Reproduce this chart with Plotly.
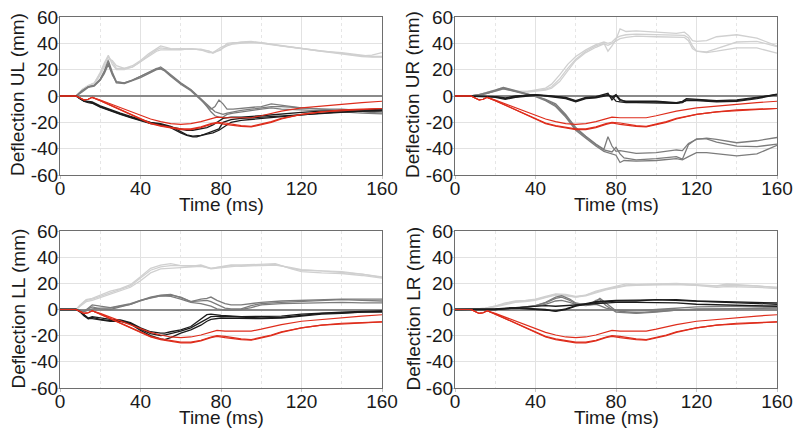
import plotly.graph_objects as go

# ---------------- data ----------------
# red reference lines (same in every panel)
t_red = [0, 8, 10, 12, 14, 16, 20, 25, 30, 35, 40, 45, 50, 55, 60, 65, 70, 75, 78, 82, 86, 90, 95, 100, 105, 110, 120, 130, 140, 150, 160]
red_a = [0, 0, -1.5, -3, -2.5, -1, -3, -6, -9, -12, -15, -17.5, -19.5, -21, -21.5, -21, -19.5, -17, -16, -16.5, -16.5, -17, -16.5, -15, -13, -11.5, -9, -7.5, -6, -5, -4]
red_b = [0, 0, -1.5, -3, -2.5, -1, -3.5, -7, -10.5, -14.5, -18, -21, -23, -24.5, -25.5, -25.5, -24, -21.5, -20.5, -21.5, -22.5, -23, -23.5, -22, -20, -17.5, -14, -12, -11, -10, -9.5]
red_c = [0, 0, -1.5, -3, -2.5, -1, -3.5, -7, -10.5, -14, -17.5, -20.5, -22.5, -24, -25, -25, -23.5, -21, -20, -20.5, -21.5, -22.5, -23, -21.5, -19.5, -17, -14, -12, -10.5, -10, -9.5]

# UL panel
t_ul_light = [0, 8, 11, 14, 17, 20, 22, 24, 26, 28, 32, 36, 40, 44, 48, 50, 55, 60, 65, 70, 74, 76, 80, 83, 86, 90, 95, 100, 110, 120, 130, 140, 150, 155, 160]
ul_light_1 = [0, 0, 5, 8, 10, 17, 24, 30, 26, 21, 21, 23, 27, 32, 36, 38, 36, 35.5, 36, 35, 33, 33, 37, 39, 40, 41, 41.5, 40.5, 38.5, 36, 34, 33, 31, 30, 30]
ul_light_2 = [0, 0, 4, 7, 9, 16, 22, 28, 27, 23, 21, 22, 26, 31, 35, 36.5, 35.5, 36, 35.5, 35.5, 34, 33, 35, 40, 40.5, 40.5, 41, 40.5, 38, 36, 34, 32.5, 30.5, 31, 33]
ul_light_3 = [0, 0, 5, 8, 9.5, 18, 25, 31, 24, 20, 20, 22, 26, 30, 34, 35, 35, 35, 36, 35, 34, 32.5, 36, 38, 39.5, 40, 41, 40, 38, 35.5, 33.5, 32, 30, 29.5, 29.5]

t_ul_mid = [0, 8, 11, 14, 17, 20, 22, 24, 26, 28, 32, 36, 40, 44, 48, 50, 52, 55, 60, 65, 70, 73, 75, 77, 79, 81, 83, 86, 90, 95, 100, 105, 110, 120, 130, 140, 150, 160]
ul_mid_1 = [0, 0, 4, 7, 8, 13, 19, 27, 18, 11, 10, 12, 15, 18, 21, 22, 20, 16, 10, 5, -2, -6, -9, -12, -13, -14, -13, -12, -11, -10, -9, -8, -8, -9, -10, -10, -11, -12]
ul_mid_2 = [0, 0, 4, 7, 8, 12, 18, 25, 17, 10, 9.5, 11.5, 14, 17, 20, 20.5, 19, 15, 9, 4, -3, -7, -10, -8, -3, -6, -10, -10, -9.5, -9, -8, -6, -7, -9, -10, -11, -12, -13]
ul_mid_3 = [0, 0, 3, 6.5, 7.5, 12, 17, 24, 16, 10.5, 10, 12, 15, 18, 21, 21, 19.5, 15.5, 9.5, 4.5, -2.5, -8, -12, -15, -16, -16, -14, -13, -12, -11, -10, -9, -10, -10.5, -11, -12, -13, -13.5]

t_ul_dark = [0, 8, 10, 12, 14, 16, 20, 25, 30, 35, 40, 45, 50, 55, 60, 63, 66, 68, 70, 73, 76, 79, 81, 85, 90, 100, 110, 120, 130, 140, 150, 160]
ul_dark_1 = [0, 0, -2, -4, -4.5, -5, -8, -11, -13.5, -16, -18.5, -20.5, -21.5, -24, -28, -30, -31, -31, -30, -28.5, -27, -25, -20, -18, -17, -16, -15, -14, -13, -12, -11.5, -11]
ul_dark_2 = [0, 0, -2, -3.5, -4, -4.5, -7.5, -10.5, -13, -15.5, -18, -20, -21, -23, -27, -29.5, -30.5, -30.5, -30, -29, -28, -26, -24, -20, -18.5, -17, -16, -14.5, -13, -12, -11.5, -11]
ul_dark_3 = [0, 0, -2, -4, -5, -5.5, -8.5, -11.5, -14, -16.5, -19, -21, -22, -23.5, -25.5, -26, -26, -25.5, -25, -24, -22, -19, -17, -16, -16, -15, -13.5, -12.5, -11.5, -11, -10.5, -10]

# UR panel
t_ur_light = [0, 8, 12, 16, 20, 24, 28, 32, 36, 40, 45, 48, 52, 56, 60, 65, 70, 74, 76, 78, 80, 82, 85, 90, 100, 110, 114, 116, 118, 120, 125, 130, 140, 150, 160]
ur_light_1 = [0, 0, 1, 3, 4.5, 6.5, 5, 3.5, 3.5, 4, 5, 7, 13, 21, 28, 34, 38, 40, 34, 38, 43, 51, 49, 49.5, 48.5, 47.5, 48.5, 46, 42, 41.5, 42, 45, 46.5, 44, 38]
ur_light_2 = [0, 0, 1, 2.5, 4, 6, 4.5, 3.5, 3.5, 4.5, 6, 9, 16, 24, 30, 35, 39, 41, 40, 41, 44, 45.5, 46.5, 47, 46.5, 46, 46, 44, 38, 34, 33.5, 36, 41, 41.5, 37.5]
ur_light_3 = [0, 0, 1, 2, 3.5, 5.5, 4, 3, 3, 3.5, 4.5, 6, 11, 19, 27, 33, 37, 39.5, 38.5, 40, 42, 43.5, 44.5, 45.5, 45, 44.5, 44.5, 42, 36, 34, 33, 34, 36.5, 36.5, 32.5]

t_ur_mid = [0, 8, 12, 16, 20, 24, 28, 32, 36, 40, 45, 50, 55, 60, 65, 70, 74, 76, 78, 80, 82, 84, 90, 100, 110, 113, 116, 120, 125, 130, 140, 150, 160]
ur_mid_1 = [0, 0, 1, 2.5, 4.5, 6.5, 5, 3, 1.5, 0, -2.5, -6, -14, -24, -30.5, -36.5, -40.5, -31, -38, -42, -41.5, -42, -43.5, -43, -41, -41.5, -36, -33, -32, -33, -35.5, -34, -31.5]
ur_mid_2 = [0, 0, 1, 2, 4, 6, 4.5, 3, 1.5, 0, -3, -7, -15, -25, -31, -37, -41, -42, -42.5, -39, -44, -47, -48.5, -47.5, -46, -48, -37, -32.5, -32.5, -35, -38, -38.5, -36.5]
ur_mid_3 = [0, 0, 0.5, 2, 3.5, 5.5, 4, 2.5, 1, -0.5, -3.5, -8, -16, -26, -32, -38, -42, -43, -43.5, -45, -50.5, -49, -49.5, -49, -47.5, -48.5, -46, -43, -43, -44, -45.5, -44, -37.5]

t_ur_dark = [0, 8, 12, 16, 20, 25, 30, 35, 40, 45, 50, 55, 60, 65, 70, 74, 76, 78, 80, 82, 85, 90, 100, 110, 113, 115, 120, 130, 140, 150, 160]
ur_dark_1 = [0, 0, 0, -0.5, -1, -2.5, -1, 0, 0.5, 0.5, 0, -1, -3.5, -1, -0.5, 1, 2, -3, 0.5, -3.5, -4, -4, -4, -5, -4, -2, -2.5, -3.5, -3, -1, 1]
ur_dark_2 = [0, 0, 0, -0.5, -0.5, -2, -0.5, 0.5, 1, 0.5, -0.5, -1.5, -4, -1.5, -1, 0.5, 1, -1, 1, -2.5, -4.5, -4.5, -4.5, -5.5, -5, -3, -3, -4, -3.5, -1.5, 1.5]
ur_dark_3 = [0, 0, 0, 0, -0.5, -1.5, 0, 0.5, 1, 0, -1, -2, -4.5, -2, -1.5, 0, 0.5, -0.5, -4, -4.5, -5, -5, -5, -5.5, -4.5, -3.5, -3.5, -4.5, -4, -2, 1]

# LL panel
t_ll_light = [0, 8, 10, 13, 16, 20, 25, 30, 35, 40, 45, 50, 55, 60, 65, 70, 75, 80, 85, 90, 100, 107, 115, 120, 130, 140, 150, 160]
ll_light_1 = [0, 0, 3.5, 7.5, 8.5, 11, 14, 16, 19, 25, 31.5, 34, 35, 33.5, 33, 34, 31.5, 32.5, 33.5, 33, 34, 34.5, 31.5, 30, 29.5, 28.5, 27, 25]
ll_light_2 = [0, 0, 3, 7, 8, 10, 13, 15, 18, 24, 30, 32.5, 33.5, 33.5, 33.5, 33.5, 31, 32, 33, 33.5, 33.5, 34, 32, 30.5, 29.5, 29, 27, 24.5]
ll_light_3 = [0, 0, 2.5, 6, 7, 9, 12, 14, 17, 22, 28, 31, 31.5, 32, 32.5, 33, 31.5, 33, 34, 34, 34.5, 35, 31, 29, 28, 27.5, 26, 24]

t_ll_mid = [0, 8, 12, 16, 20, 25, 30, 35, 40, 45, 50, 55, 60, 65, 70, 73, 75, 78, 82, 85, 90, 95, 100, 110, 120, 130, 140, 150, 160]
ll_mid_1 = [0, 0, -1.5, 3.5, 2.5, 1.5, 3, 4.5, 7, 9.5, 11, 11.5, 9, 6, 8, 8.5, 9.5, 7, 4.5, 3.5, 3.5, 4.5, 5.5, 6.5, 7, 8, 8, 8, 8]
ll_mid_2 = [0, 0, -1, 2, 0.5, 0, 2, 4, 7, 9, 10.5, 11, 9.5, 6, 6.5, 7, 6, 4, 1, 0.5, 0.5, 3, 4.5, 5.5, 6, 7, 7.5, 7, 6.5]
ll_mid_3 = [0, 0, -1.5, 0.5, 1, 1, 2.5, 4, 6.5, 9, 10.5, 10, 8, 5.5, 4.5, 3.5, 2.5, 0.5, -0.5, -0.5, 0, 1.5, 3.5, 4.5, 5, 5.5, 5.5, 5, 5]

t_ll_dark = [0, 8, 10, 12, 14, 16, 20, 25, 30, 35, 40, 45, 50, 52, 55, 60, 65, 70, 73, 75, 80, 90, 100, 110, 120, 130, 140, 150, 160]
ll_dark_1 = [0, 0, -1.5, -4, -6.5, -5.5, -6.5, -7.5, -8, -10, -14, -17, -18, -18, -17, -15.5, -13, -7, -4, -3.5, -4.5, -5.5, -5.5, -5, -3.5, -2.5, -2, -1.5, -1]
ll_dark_2 = [0, 0, -1.5, -4.5, -7, -6, -7.5, -8.5, -8.5, -10.5, -15, -18.5, -20, -19.5, -18.5, -16.5, -14, -10, -7, -5.5, -5, -6, -6.5, -6, -4.5, -3, -2.5, -2, -1.5]
ll_dark_3 = [0, 0, -2, -5, -7, -7, -8, -9, -9, -11, -16, -20, -22.5, -23, -21.5, -18, -15.5, -12, -9, -7.5, -6.5, -7, -7, -6.5, -5, -3.5, -3, -2, -2]

# LR panel
t_lr_light = [0, 8, 15, 20, 25, 30, 35, 40, 45, 50, 55, 60, 65, 70, 75, 80, 85, 90, 100, 110, 120, 130, 135, 140, 150, 160]
lr_light_1 = [0, 0, 1, 2.5, 5, 6.5, 7, 8, 10, 12, 11.5, 10, 11, 14, 16, 17.5, 19.5, 19, 19.5, 20, 19, 18, 19.5, 19, 18.5, 17]
lr_light_2 = [0, 0, 1, 2.5, 4.5, 6, 6.5, 7.5, 9.5, 11.5, 11, 9.5, 11, 13.5, 15.5, 17, 18.5, 19, 19.5, 19.5, 18.5, 18, 18.5, 18.5, 18, 16.5]
lr_light_3 = [0, 0, 0.5, 2, 4, 5.5, 6, 7, 9, 11, 10.5, 9.5, 10.5, 13, 15, 16.5, 18, 18.5, 19, 19, 18.5, 17, 17.5, 17.5, 17, 16]

t_lr_mid = [0, 8, 20, 30, 40, 45, 50, 53, 57, 60, 65, 68, 70, 72, 75, 80, 90, 100, 110, 120, 140, 160]
lr_mid_1 = [0, 0, 0, 1, 3, 5.5, 9.5, 10.5, 8, 5, 3.5, 4, 6, 8.5, 5, -1, -2.5, -1.5, 0, 0.5, 0.5, 1]
lr_mid_2 = [0, 0, 0, 1, 3, 5, 8.5, 9.5, 7, 4.5, 4, 5, 7, 7.5, 3, -2, -3, -2, -0.5, 0, 0.5, 1.5]
lr_mid_3 = [0, 0, 0, 0.5, 2.5, 4, 6.5, 7, 5.5, 4, 3, 3.5, 4, 3, 1, -0.5, -1, 0, 1, 2, 2.5, 2.5]

t_lr_dark = [0, 8, 20, 30, 40, 45, 50, 55, 60, 65, 70, 80, 90, 100, 110, 120, 140, 160]
lr_dark_1 = [0, 0, 0, 1.5, 0.5, 0, -1.5, 0, 2.5, 4, 5.5, 6.5, 6.5, 7.5, 7, 6, 5, 4]
lr_dark_2 = [0, 0, 0, 1, 0, -0.5, -1, 0.5, 3, 4.5, 6, 7, 7, 7.5, 7.5, 6.5, 6, 5]
lr_dark_3 = [0, 0, 0.5, 1.5, 2.5, 3, 2.5, 3, 4, 4, 4.5, 5.5, 5.5, 5.5, 5, 4, 3, 2.5]

panel_labels = ["UL", "UR", "LL", "LR"]
x_ticks = [0, 40, 80, 120, 160]
y_ticks = [-60, -40, -20, 0, 20, 40, 60]
y_tick_labels = ["-60", "-40", "-20", "0", "20", "40", "60"]
x_title = "Time (ms)"

# ---------------- styling ----------------
C_LIGHT = "#d0d0d0"
C_MID = "#7c7c7c"
C_DARK = "#1c1c1c"
C_RED = "#de2d1c"
FONT = "Liberation Sans, Arial, sans-serif"
TXT = "#1a1a1a"

panels = {
    "UL": (t_ul_light, [ul_light_1, ul_light_2, ul_light_3], t_ul_mid, [ul_mid_1, ul_mid_2, ul_mid_3], t_ul_dark, [ul_dark_1, ul_dark_2, ul_dark_3]),
    "UR": (t_ur_light, [ur_light_1, ur_light_2, ur_light_3], t_ur_mid, [ur_mid_1, ur_mid_2, ur_mid_3], t_ur_dark, [ur_dark_1, ur_dark_2, ur_dark_3]),
    "LL": (t_ll_light, [ll_light_1, ll_light_2, ll_light_3], t_ll_mid, [ll_mid_1, ll_mid_2, ll_mid_3], t_ll_dark, [ll_dark_1, ll_dark_2, ll_dark_3]),
    "LR": (t_lr_light, [lr_light_1, lr_light_2, lr_light_3], t_lr_mid, [lr_mid_1, lr_mid_2, lr_mid_3], t_lr_dark, [lr_dark_1, lr_dark_2, lr_dark_3]),
}

# the page's body margin is removed (see post_script), so paper == screen pixels
W, H = 795, 430


def fx(p):
    return p / W


def fy(p):
    return 1 - p / H


xcols = [(60, 382), (455, 777)]
yrows = [(17, 175), (231, 388)]

fig = go.Figure()
layout = dict(
    width=W, height=H,
    margin=dict(l=0, r=0, t=0, b=0, autoexpand=False),
    paper_bgcolor="white", plot_bgcolor="white",
    showlegend=False,
    font=dict(family=FONT, size=19, color=TXT),
)
annotations = []

for i, name in enumerate(panel_labels):
    row, col = divmod(i, 2)
    ax = "" if i == 0 else str(i + 1)
    xa, ya = "x" + ax, "y" + ax
    tl, light, tm, mid, td, dark = panels[name]
    for series, t, c in ((light, tl, C_LIGHT), (mid, tm, C_MID), (dark, td, C_DARK)):
        for s in series:
            fig.add_trace(go.Scatter(x=t, y=s, mode="lines", xaxis=xa, yaxis=ya,
                                     line=dict(color=c, width=1.3), hoverinfo="skip"))
    for s in (red_a, red_b, red_c):
        fig.add_trace(go.Scatter(x=t_red, y=s, mode="lines", xaxis=xa, yaxis=ya,
                                 line=dict(color=C_RED, width=1.2), hoverinfo="skip"))
    x0, x1 = xcols[col]
    y0, y1 = yrows[row]
    layout["xaxis" + ax] = dict(
        domain=[fx(x0), fx(x1)], anchor=ya, range=[0, 160], automargin=False,
        tickvals=x_ticks, ticks="outside", ticklen=3, tickcolor="#c8c8c8", tickwidth=1,
        showline=True, mirror=True,
        linecolor="#6e6e6e", linewidth=1,
        showgrid=True, gridcolor="#e2e2e2", gridwidth=1, zeroline=False,
        minor=dict(dtick=20, tick0=0, showgrid=True, gridcolor="#e6e6e6", griddash="dot", gridwidth=1),
        ticklabelstandoff=-7, ticklabeloverflow="allow",
        tickfont=dict(size=19, color=TXT), fixedrange=True,
    )
    layout["yaxis" + ax] = dict(
        domain=[fy(y1), fy(y0)], anchor=xa, range=[-60, 60], automargin=False,
        tickvals=y_ticks, ticktext=y_tick_labels, ticks="outside", ticklen=3,
        tickcolor="#c8c8c8", tickwidth=1,
        showline=True, mirror=True,
        linecolor="#6e6e6e", linewidth=1,
        showgrid=True, gridcolor="#e2e2e2", gridwidth=1,
        zeroline=True, zerolinecolor="#8a8a8a", zerolinewidth=2,
        ticklabelstandoff=-6, ticklabeloverflow="allow",
        tickfont=dict(size=19, color=TXT), fixedrange=True,
    )
    # axis titles
    annotations.append(dict(text=x_title, x=(fx(x0) + fx(x1)) / 2, y=fy(y1 + 29),
                            xref="paper", yref="paper", xanchor="center", yanchor="middle",
                            showarrow=False, font=dict(size=19, color=TXT, family=FONT)))
    annotations.append(dict(text=f"Deflection {name} (mm)", x=fx(x0 - 42), y=fy((y0 + y1) / 2 - 1),
                            xref="paper", yref="paper", xanchor="center", yanchor="middle",
                            textangle=-90, showarrow=False, font=dict(size=19, color=TXT, family=FONT)))

layout["annotations"] = annotations
fig.update_layout(**layout)
fig.write_html(
    "out.html",
    config={"displayModeBar": False, "staticPlot": True},
    post_script="document.body.style.margin='0';document.body.style.overflow='hidden';",
)
